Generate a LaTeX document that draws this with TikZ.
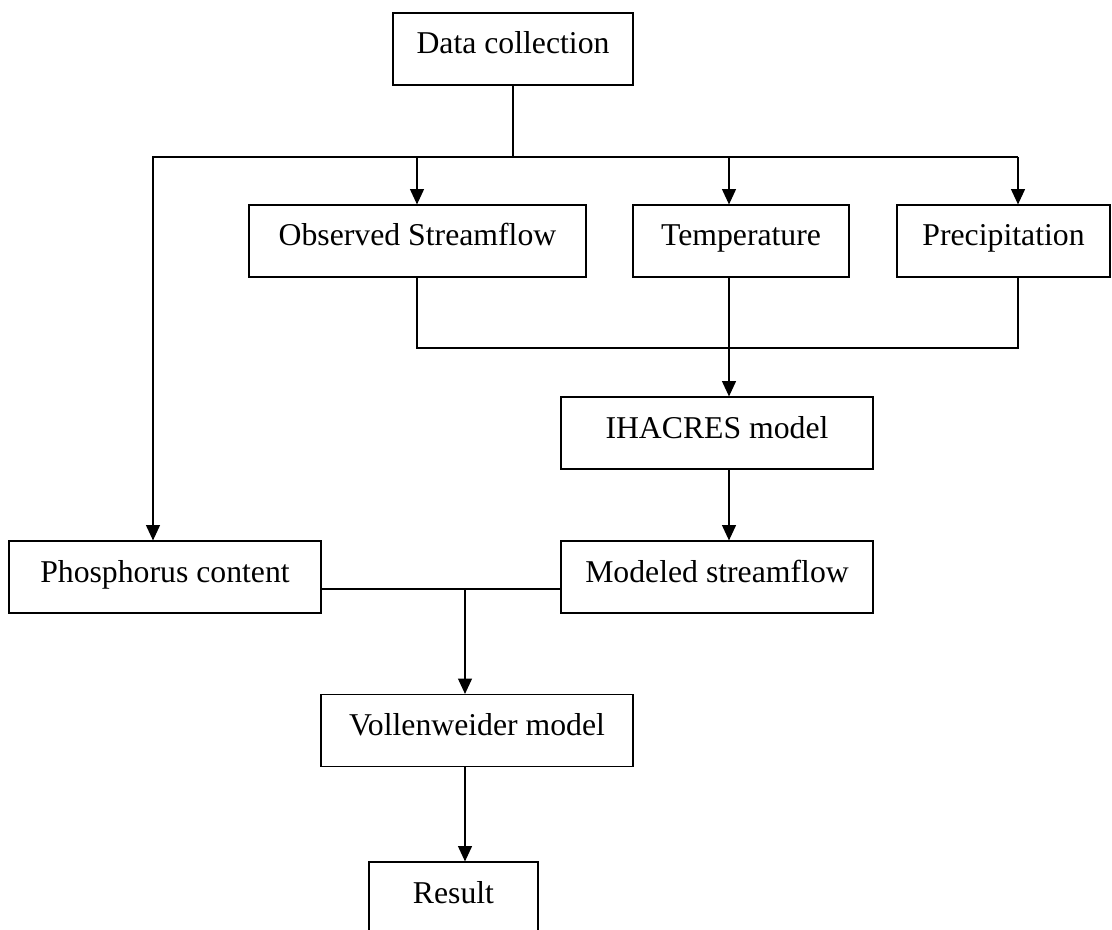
\documentclass[tikz,border=0pt]{standalone}
\usepackage{fontspec}
\setmainfont{Liberation Serif}
\usetikzlibrary{arrows.meta}
\begin{document}
\begin{tikzpicture}[x=0.75pt,y=-0.75pt,
  box/.style={draw,line width=0.9pt,inner xsep=0pt,inner ysep=0pt,
    text height=30.75pt,text depth=23.25pt,align=center,
    font=\fontsize{23.8pt}{28pt}\selectfont},
  conn/.style={line width=0.9pt},
  arr/.style={line width=0.9pt,-{Triangle[length=11.5pt,width=10.5pt]}}]
\useasboundingbox (0,0) rectangle (1112,930);
% nodes
\node[box,minimum width=180pt] (data) at (513,49) {Data collection};
\node[box,minimum width=252.75pt] (obs) at (417.5,241) {Observed Streamflow};
\node[box,minimum width=162pt] (temp) at (741,241) {Temperature};
\node[box,minimum width=159.75pt] (prec) at (1003.5,241) {Precipitation};
\node[box,minimum width=234pt] (ihacres) at (717,433) {IHACRES model};
\node[box,minimum width=234pt] (modeled) at (717,577) {Modeled streamflow};
\node[box,minimum width=234pt] (phos) at (165,577) {Phosphorus content};
\node[box,minimum width=234pt] (voll) at (477,730.5) {Vollenweider model};
\node[box,minimum width=126.75pt] (result) at (453.5,898) {Result};
% junction coordinates
\coordinate (bus) at (513,157);
\coordinate (busL) at (153,157);
\coordinate (busR) at (1018,157);
\coordinate (busO) at (417,157);
\coordinate (busT) at (729,157);
\coordinate (m1) at (417,348);
\coordinate (m2) at (1018,348);
\coordinate (m3) at (729,348);
\coordinate (j) at (465,589);
% connectors
\draw[conn] (data.south) -- (bus);
\draw[arr] (busR) -- (busL) -- (busL |- phos.north);
\draw[arr] (busO) -- (busO |- obs.north);
\draw[arr] (busT) -- (busT |- temp.north);
\draw[arr] (busR) -- (busR |- prec.north);
\draw[conn] (m1 |- obs.south) -- (m1) -- (m2) -- (m2 |- prec.south);
\draw[arr] (m3 |- temp.south) -- (m3 |- ihacres.north);
\draw[arr] (m3 |- ihacres.south) -- (m3 |- modeled.north);
\draw[conn] (phos.east |- j) -- (modeled.west |- j);
\draw[arr] (j) -- (j |- voll.north);
\draw[arr] (j |- voll.south) -- (j |- result.north);
\end{tikzpicture}
\end{document}
